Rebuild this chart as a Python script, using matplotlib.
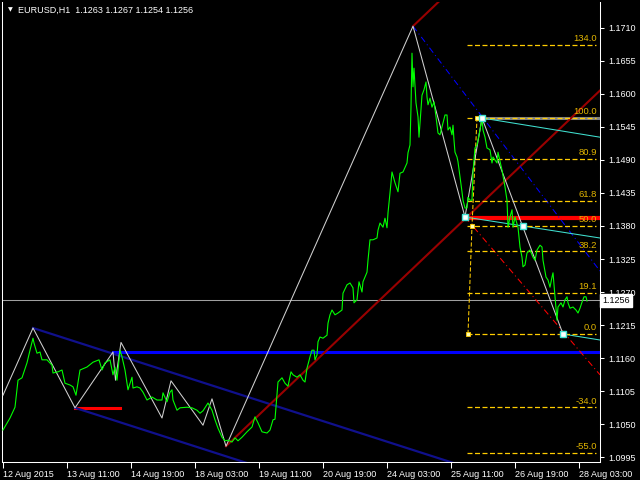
import matplotlib.pyplot as plt
import matplotlib.transforms as mtransforms

plt.rcParams['font.family'] = ['Liberation Sans', 'DejaVu Sans']

# EURUSD H1 closes, bar 0 = 12 Aug 2015 00:00
close_bars = [
    0, 3.5, 6, 7.5, 9.5, 12, 13.5, 15, 15.5, 17,
    18.5, 19.5, 22, 24.5, 25, 27.5, 29.5, 31, 33.5, 35,
    36.5, 38.5, 42, 45, 48, 49.5, 51, 53.5, 55, 56,
    57, 58.5, 59.5, 61, 62.5, 64.5, 65, 67, 68.5, 70,
    72, 74.5, 77, 79.5, 80, 82, 83.5, 84.5, 85, 87,
    88.5, 92, 94.5, 97, 98.5, 100, 102.5, 104.5, 106, 107.5,
    109.5, 111, 112.5, 114.5, 116, 117.5, 119.5, 122, 124.5, 126,
    127.5, 129.5, 132, 133.5, 135, 136, 137, 137.5, 139.5, 141,
    142.5, 144, 145, 147, 148.5, 150, 151, 152, 153.5, 154.5,
    155.5, 156, 157, 157.5, 158.5, 160, 162, 162.5, 163.5, 164.5,
    166, 167.5, 169.5, 170, 172, 173.5, 175, 175.5, 177, 178,
    179.5, 180, 182, 182.5, 183, 183.5, 185, 187, 187.5, 188.5,
    190, 191, 192, 192.5, 193.5, 194.5, 196, 197.5, 198.5, 200,
    202, 202.5, 203.5, 204, 204.5, 205, 205.5, 206.5, 207.5, 208,
    209, 209.5, 210.5, 211.5, 212, 212.5, 213.5, 214.5, 215.5, 216.5,
    217.5, 218.5, 220, 221, 222, 222.5, 223.5, 224.5, 225, 225.5,
    226, 227, 227.5, 228.5, 229.5, 230, 231, 232, 232.5, 233.5,
    234.5, 235, 235.5, 236, 237, 238.5, 239.5, 240, 241, 242,
    243.5, 244.5, 245, 247, 247.5, 249.5, 251, 252, 252.5, 253.5,
    254.5, 255, 256, 257.5, 258.5, 259.5, 260, 261, 262, 263.5,
    265, 266, 267, 268.5, 269.5, 270, 271.5, 272.5, 273.5, 274.5,
    275, 276, 276.5, 277, 277.5, 279, 280, 281, 282, 282.5,
    283.5, 285, 286.5, 287.5, 288.5, 289.5, 290.5, 291.5, 292,
]
close_prices = [
    1.1040, 1.1060, 1.1078, 1.1123, 1.1127, 1.1152, 1.1173, 1.1193, 1.1185, 1.1168,
    1.1170, 1.1157, 1.1157, 1.1148, 1.1135, 1.1137, 1.1140, 1.1118, 1.1115, 1.1112,
    1.1098, 1.1140, 1.1145, 1.1153, 1.1157, 1.1140, 1.1152, 1.1157, 1.1132, 1.1145,
    1.1123, 1.1173, 1.1162, 1.1140, 1.1107, 1.1128, 1.1110, 1.1112, 1.1110, 1.1103,
    1.1090, 1.1095, 1.1090, 1.1090, 1.1102, 1.1087, 1.1103, 1.1107, 1.1090, 1.1073,
    1.1077, 1.1078, 1.1077, 1.1073, 1.1068, 1.1072, 1.1085, 1.1073, 1.1057, 1.1043,
    1.1028, 1.1022, 1.1023, 1.1020, 1.1027, 1.1022, 1.1028, 1.1037, 1.1045, 1.1062,
    1.1052, 1.1037, 1.1035, 1.1040, 1.1057, 1.1058, 1.1098, 1.1120, 1.1127, 1.1118,
    1.1113, 1.1137, 1.1132, 1.1128, 1.1132, 1.1123, 1.1120, 1.1143, 1.1162, 1.1173,
    1.1173, 1.1157, 1.1165, 1.1187, 1.1195, 1.1193, 1.1198, 1.1218, 1.1232, 1.1240,
    1.1232, 1.1235, 1.1240, 1.1268, 1.1282, 1.1285, 1.1277, 1.1252, 1.1257, 1.1287,
    1.1270, 1.1287, 1.1303, 1.1323, 1.1340, 1.1357, 1.1357, 1.1360, 1.1373, 1.1385,
    1.1378, 1.1393, 1.1377, 1.1402, 1.1435, 1.1470, 1.1452, 1.1437, 1.1468, 1.1470,
    1.1485, 1.1502, 1.1515, 1.1578, 1.1668, 1.1612, 1.1643, 1.1585, 1.1562, 1.1528,
    1.1573, 1.1598, 1.1607, 1.1620, 1.1595, 1.1582, 1.1593, 1.1578, 1.1587, 1.1562,
    1.1535, 1.1532, 1.1552, 1.1565, 1.1565, 1.1540, 1.1545, 1.1532, 1.1548, 1.1523,
    1.1503, 1.1495, 1.1487, 1.1462, 1.1437, 1.1423, 1.1410, 1.1410, 1.1428, 1.1423,
    1.1423, 1.1470, 1.1490, 1.1510, 1.1515, 1.1540, 1.1560, 1.1540, 1.1528, 1.1510,
    1.1507, 1.1485, 1.1495, 1.1485, 1.1503, 1.1473, 1.1445, 1.1423, 1.1378, 1.1395,
    1.1407, 1.1378, 1.1395, 1.1378, 1.1345, 1.1328, 1.1312, 1.1315, 1.1335, 1.1340,
    1.1328, 1.1323, 1.1340, 1.1348, 1.1345, 1.1323, 1.1295, 1.1290, 1.1278, 1.1295,
    1.1302, 1.1262, 1.1240, 1.1223, 1.1245, 1.1252, 1.1245, 1.1257, 1.1262, 1.1252,
    1.1243, 1.1245, 1.1240, 1.1235, 1.1243, 1.1253, 1.1262, 1.1262, 1.1255,
]

# zigzag pivots
zz_bars = [0, 15, 36, 55, 56.25, 59, 79.5, 84, 100, 104.5, 111.5, 205, 231, 239.5, 280]
zz_prices = [1.1098, 1.1210, 1.1077, 1.1170, 1.1123, 1.1186, 1.1060, 1.1122,
             1.1048, 1.1092, 1.1013, 1.1713, 1.1395, 1.1560, 1.1200]

# fibo
fib_levels = [134.0, 100.0, 80.9, 61.8, 50.0, 38.2, 19.1, 0.0, -34.0, -55.0]
fib_low = 1.1200
fib_high = 1.1560
fib_bars = [232, 296.5]
fib_anchor_bars = [232.5, 234.5, 237]
fib_anchor_prices = [1.1200, 1.1380, 1.1560]

# other objects
last_close = 1.1256
blue_level = 1.1170
red_level = 1.1394
red_short_level = 1.1077
navy_slope = -0.000107      # per bar
maroon_slope = 0.000317     # per bar
cyan_starts = [(239.5, 1.1560), (231, 1.1395), (280, 1.1200)]
cyan_ends = [1.1528, 1.1360, 1.1190]
cyan_points_bars = [231, 239.5, 260, 280]
cyan_points_prices = [1.1395, 1.1560, 1.1380, 1.1200]

x_ticks = [0, 32, 64, 96, 128, 160, 192, 224, 256, 288]
x_labels = ['12 Aug 2015', '13 Aug 11:00', '14 Aug 19:00', '18 Aug 03:00', '19 Aug 11:00',
            '20 Aug 19:00', '24 Aug 03:00', '25 Aug 11:00', '26 Aug 19:00', '28 Aug 03:00']
y_ticks = [1.0995, 1.1050, 1.1105, 1.1160, 1.1215, 1.1270, 1.1325, 1.1380,
           1.1435, 1.1490, 1.1545, 1.1600, 1.1655, 1.1710]

x_min, x_max = -0.5, 298.5
y_min, y_max = 1.09867, 1.17533

fig = plt.figure(figsize=(6.4, 4.8), dpi=100, facecolor='black')
ax = fig.add_axes([2 / 640, 18 / 480, 598 / 640, 460 / 480], facecolor='black')

# horizontal objects
ax.axhline(last_close, color='#A0A0A0', lw=0.75, zorder=1)
ax.plot([55, x_max], [blue_level, blue_level], color='#0000FF', lw=2.2, zorder=2)
ax.plot([231, x_max], [red_level, red_level], color='#FF0000', lw=3, zorder=2)
ax.plot([36, 58.5], [red_short_level, red_short_level], color='#FF0000', lw=2.2, zorder=2)
ax.plot([239.5, x_max], [fib_high, fib_high], color='#808080', lw=2.2, zorder=2)

# navy channel
for b0, p0 in [(15, 1.1210), (36, 1.1077)]:
    ax.plot([b0, x_max], [p0, p0 + navy_slope * (x_max - b0)], color='#10108C', lw=1.6, zorder=2)

# maroon channel
for b0, p0 in [(111.5, 1.1013), (205, 1.1713)]:
    ax.plot([b0, x_max], [p0, p0 + maroon_slope * (x_max - b0)], color='#990000', lw=1.5, zorder=2)

# dash-dot rays
ax.plot([205, x_max], [1.1713, 1.1305], color='#0000FF', lw=0.75, dashes=(6, 3, 1, 3), zorder=2)
ax.plot([231, x_max], [1.1395, 1.1132], color='#FF0000', lw=0.75, dashes=(6, 3, 1, 3), zorder=2)

# cyan rays
for (b0, p0), p1 in zip(cyan_starts, cyan_ends):
    ax.plot([b0, x_max], [p0, p1], color='#40E0D0', lw=0.75, zorder=3)

# fibo levels
for lvl in fib_levels:
    p = fib_low + (fib_high - fib_low) * lvl / 100
    ax.plot(fib_bars, [p, p], color='#FFCC00', lw=0.9, dashes=(4, 2), zorder=3)
    ax.text(fib_bars[1] + 0.5, p + 0.0003, f'{lvl:.1f}', color='#E0B400', fontsize=6.8,
            ha='right', va='bottom', zorder=6)
ax.plot(fib_anchor_bars, fib_anchor_prices, color='#FFCC00', lw=0.75, dashes=(4, 2), zorder=3)
ax.plot(fib_anchor_bars, fib_anchor_prices, ls='none', marker='s', ms=2.5,
        mfc='#FFFFB0', mec='#FFCC00', mew=0.6, zorder=7)

# price + zigzag
ax.plot(close_bars, close_prices, color='#00FF00', lw=0.8, zorder=5)
ax.plot(zz_bars, zz_prices, color='#D0D0D0', lw=0.75, zorder=4)
ax.plot(cyan_points_bars, cyan_points_prices, ls='none', marker='s', ms=4,
        mfc='white', mec='#40E0D0', mew=1, zorder=7)

ax.set_xlim(x_min, x_max)
ax.set_ylim(y_min, y_max)

ax.set_xticks(x_ticks)
ax.set_xticklabels(x_labels)
for lab in ax.get_xticklabels():
    lab.set_ha('left')
ax.yaxis.tick_right()
ax.set_yticks(y_ticks)
ax.set_yticklabels([f'{v:.4f}' for v in y_ticks])
ax.tick_params(axis='both', colors='white', labelsize=6.5, width=0.75)
ax.tick_params(axis='x', length=4, pad=1.5)
ax.tick_params(axis='y', length=3, pad=3)

for side in ['left', 'right', 'bottom']:
    ax.spines[side].set_color('white')
    ax.spines[side].set_linewidth(0.75)
ax.spines['top'].set_visible(False)

# current price tag (sits over the 1.1270 label, as in MT4)
trans = mtransforms.blended_transform_factory(ax.transAxes, ax.transData)
ax.text(1.004, last_close, f'{last_close:.4f}', transform=trans, color='black', fontsize=6.5,
        ha='left', va='center', clip_on=False, zorder=10,
        bbox=dict(boxstyle='square,pad=0.25', facecolor='white', edgecolor='white'))

# header
fig.text(8 / 640, 1 - 10 / 480, '\u25bc', color='white', fontsize=4.5, va='center',
         family='DejaVu Sans')
fig.text(18 / 640, 1 - 10 / 480, 'EURUSD,H1  1.1263 1.1267 1.1254 1.1256',
         color='white', fontsize=6.5, va='center')

fig.savefig('out.png', dpi=100, facecolor='black')
